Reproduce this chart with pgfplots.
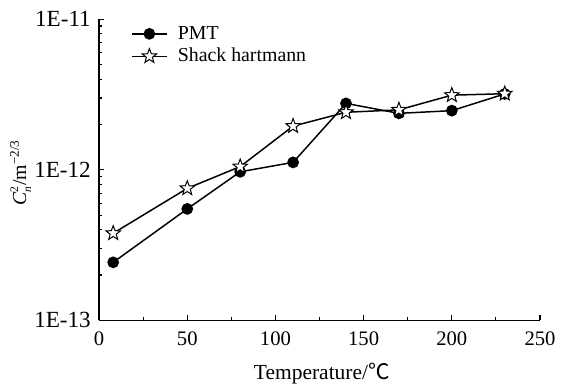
\documentclass[border=0pt]{standalone}
\usepackage{pgfplots}
\pgfplotsset{compat=1.18}
\usepackage{fontspec}
\setmainfont{Liberation Serif}
\newfontfamily\cjk{Noto Sans CJK SC}
\pgfdeclareplotmark{ostar}{%
 \pgfpathmoveto{\pgfpointpolar{90}{\pgfplotmarksize}}%
 \pgfpathlineto{\pgfpointpolar{126}{0.42\pgfplotmarksize}}%
 \pgfpathlineto{\pgfpointpolar{162}{\pgfplotmarksize}}%
 \pgfpathlineto{\pgfpointpolar{198}{0.42\pgfplotmarksize}}%
 \pgfpathlineto{\pgfpointpolar{234}{\pgfplotmarksize}}%
 \pgfpathlineto{\pgfpointpolar{270}{0.42\pgfplotmarksize}}%
 \pgfpathlineto{\pgfpointpolar{306}{\pgfplotmarksize}}%
 \pgfpathlineto{\pgfpointpolar{342}{0.42\pgfplotmarksize}}%
 \pgfpathlineto{\pgfpointpolar{18}{\pgfplotmarksize}}%
 \pgfpathlineto{\pgfpointpolar{54}{0.42\pgfplotmarksize}}%
 \pgfpathclose
 \pgfusepathqfillstroke}
\begin{document}
\begin{tikzpicture}
\path (-60pt,-39.4pt) rectangle (276.6pt,194pt);
\begin{semilogyaxis}[
  scale only axis,
  width=267pt, height=182.4pt,
  xmin=0, xmax=250, ymin=1e-13, ymax=1e-11,
  axis x line*=bottom, axis y line*=left,
  axis line style={line width=0.8pt},
  tick align=inside,
  xtick={0,50,100,150,200,250},
  minor x tick num=1,
  ytick={1e-13,1e-12,1e-11},
  yticklabels={1E-13,1E-12,1E-11},
  major tick length=3pt, minor tick length=1.8pt,
  every tick/.style={black, line width=0.7pt},
  /pgf/number format/assume math mode=true,
  xticklabel style={font=\fontsize{12.5}{14}\selectfont, yshift=-3.5pt},
  yticklabel style={font=\fontsize{14}{16}\selectfont, xshift=-1.5pt},
  label style={font=\fontsize{12.5}{14}\selectfont},
  xlabel={Temperature/{\cjk ℃}},
  ylabel={$\mbox{\textit{C}}^{\mbox{\scriptsize 2}}_{\mbox{\scriptsize\textit{n}}}$/m\textsuperscript{−2/3}},
  xlabel style={at={(axis description cs:0.505,-0.178)}, anchor=center, font=\fontsize{13}{15}\selectfont},
  ylabel style={at={(axis description cs:-0.178,0.49)}, anchor=center, font=\fontsize{12}{14}\selectfont},
  legend style={at={(axis description cs:0.06,1.0)}, anchor=north west,
    draw=none, fill=none, font=\fontsize{12}{14}\selectfont, row sep=0pt},
  legend cell align=left,
  legend image code/.code={\draw[mark repeat=2,mark phase=2] plot coordinates {(0pt,0pt)(10.8pt,0pt)(21.6pt,0pt)};},
]
\addplot[black, line width=0.9pt, mark=*, mark size=3.1pt] coordinates {
(8,2.43e-13) (50,5.5e-13) (80,9.7e-13) (110,1.12e-12) (140,2.76e-12) (170,2.37e-12) (200,2.47e-12) (230,3.19e-12)};
\addlegendentry{\hspace{4pt}PMT}
\addplot[black, line width=0.9pt, mark=ostar, mark size=4.6pt, mark options={fill=white, line width=0.6pt}] coordinates {
(8,3.79e-13) (50,7.53e-13) (80,1.05e-12) (110,1.95e-12) (140,2.41e-12) (170,2.5e-12) (200,3.13e-12) (230,3.2e-12)};
\addlegendentry{\hspace{4pt}Shack hartmann}
\end{semilogyaxis}
\end{tikzpicture}
\end{document}
